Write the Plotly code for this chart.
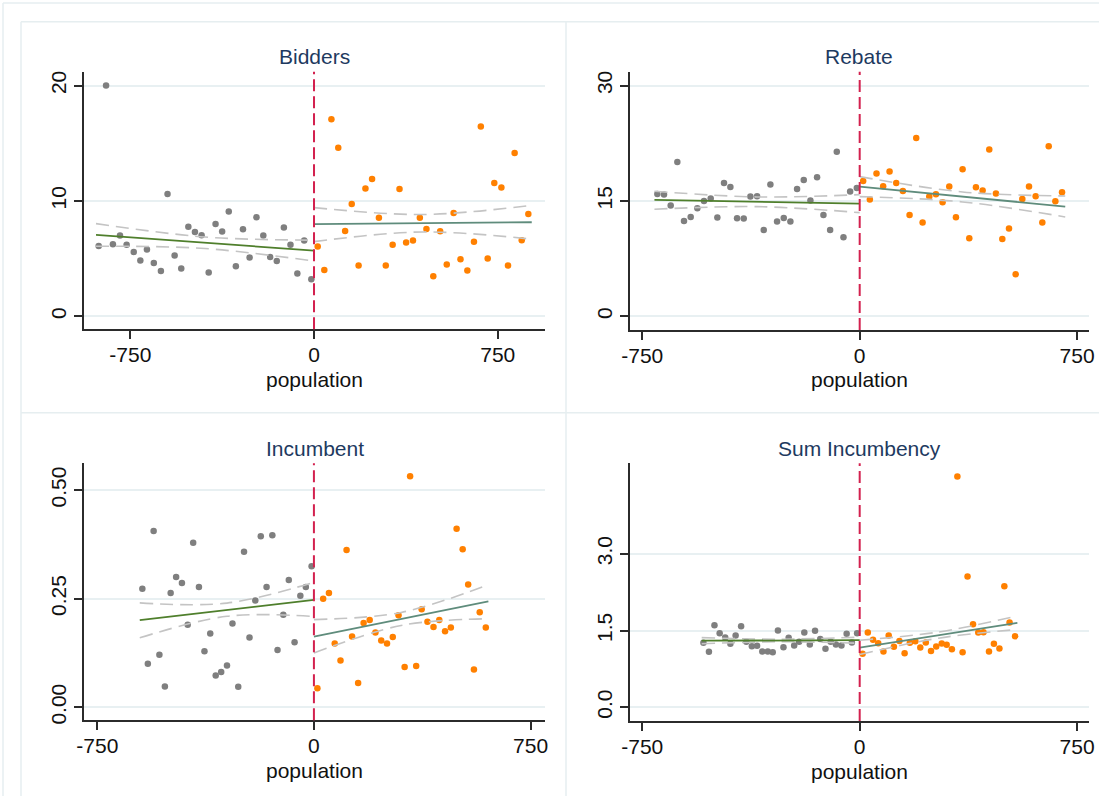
import plotly.graph_objects as go

W, H = 1099, 796

# ---------------- Bidders ----------------
bid_left_x = [-879, -849, -821, -792, -765, -736, -709, -682, -654, -625, -598, -569,
              -542, -513, -486, -459, -430, -402, -375, -348, -319, -290, -263, -235,
              -207, -179, -152, -123, -96, -68, -40, -11]
bid_left_y = [6.10, 20.0, 6.24, 7.00, 6.20, 5.58, 4.83, 5.78, 4.62, 3.93, 10.6, 5.26,
              4.13, 7.75, 7.31, 7.02, 3.79, 8.00, 7.34, 9.08, 4.34, 7.54, 5.09, 8.58,
              7.00, 5.14, 4.80, 7.69, 6.21, 3.70, 6.56, 3.21]
bid_right_x = [15, 42, 71, 99, 127, 154, 182, 210, 237, 265, 293, 321, 349, 376, 404, 432,
               459, 487, 515, 542, 570, 598, 626, 653, 681, 709, 736, 765, 792, 819, 848, 875]
bid_right_y = [6.04, 4.02, 17.08, 14.6, 7.40, 9.74, 4.39, 11.07, 11.9, 8.53, 4.39, 6.21,
               11.04, 6.39, 6.56, 8.53, 7.57, 3.47, 7.37, 4.48, 8.96, 4.94, 3.96, 6.47,
               16.45, 5.00, 11.56, 11.16, 4.39, 14.16, 6.59, 8.87]
bid_fit_left_x, bid_fit_left_y = [-890, 0], [7.05, 5.69]
bid_fit_right_x, bid_fit_right_y = [0, 889], [7.98, 8.15]
bid_ci_left_x = [-890, -445, 0]
bid_ci_left_hi = [8.03, 6.87, 6.60]
bid_ci_left_lo = [6.07, 5.87, 4.78]
bid_ci_right_x = [0, 445, 889]
bid_ci_right_hi = [9.42, 8.82, 9.62]
bid_ci_right_lo = [6.47, 7.31, 6.68]

# ---------------- Rebate ----------------
reb_left_x = [-698, -675, -652, -629, -606, -583, -560, -537, -514, -491, -468, -446,
              -423, -400, -377, -354, -331, -308, -285, -262, -239, -216, -193, -170,
              -147, -125, -102, -79, -56, -33, -10]
reb_left_y = [15.91, 15.82, 14.39, 20.06, 12.40, 12.92, 14.05, 15.00, 15.30, 12.84,
              17.34, 16.82, 12.75, 12.71, 15.56, 15.61, 11.23, 17.12, 12.32, 12.79,
              12.32, 16.56, 17.73, 15.04, 18.07, 13.18, 11.23, 21.40, 10.28, 16.21, 16.69]
reb_right_x = [12, 35, 58, 81, 103, 126, 149, 172, 195, 217, 240, 263, 286, 309, 332,
               355, 378, 401, 424, 447, 470, 492, 515, 538, 561, 584, 607, 630, 652, 675, 698]
reb_right_y = [17.60, 15.17, 18.55, 16.90, 18.81, 17.34, 16.30, 13.18, 23.18, 12.19,
               15.56, 15.87, 14.83, 16.86, 12.88, 19.11, 10.15, 16.77, 16.34, 21.67,
               15.95, 10.06, 11.41, 5.48, 15.26, 16.86, 15.61, 12.19, 22.10, 14.96, 16.13]
reb_fit_left_x, reb_fit_left_y = [-708, 0], [15.13, 14.65]
reb_fit_right_x, reb_fit_right_y = [0, 709], [16.86, 14.26]
reb_ci_left_x = [-708, -354, 0]
reb_ci_left_hi = [16.26, 15.52, 15.82]
reb_ci_left_lo = [13.92, 14.26, 13.48]
reb_ci_right_x = [0, 355, 709]
reb_ci_right_hi = [18.16, 16.17, 15.65]
reb_ci_right_lo = [15.56, 14.87, 12.92]

# ---------------- Incumbent ----------------
inc_left_x = [-594, -575, -555, -535, -516, -496, -477, -457, -437, -418, -398, -379,
              -359, -340, -321, -301, -282, -262, -242, -223, -203, -184, -164, -144,
              -126, -106, -87, -67, -47, -28, -8]
inc_left_y = [0.273, 0.100, 0.406, 0.121, 0.048, 0.263, 0.300, 0.286, 0.190, 0.379,
              0.277, 0.129, 0.170, 0.073, 0.081, 0.096, 0.193, 0.047, 0.358, 0.161,
              0.246, 0.394, 0.277, 0.396, 0.132, 0.213, 0.293, 0.150, 0.257, 0.277, 0.325]
inc_right_x = [12, 32, 52, 72, 92, 113, 132, 153, 172, 193, 213, 233, 253, 273, 293,
               314, 333, 354, 373, 393, 414, 434, 454, 474, 494, 515, 534, 554, 574, 595]
inc_right_y = [0.044, 0.250, 0.263, 0.147, 0.108, 0.362, 0.163, 0.056, 0.194, 0.201,
               0.172, 0.154, 0.147, 0.162, 0.212, 0.093, 0.532, 0.095, 0.226, 0.197,
               0.185, 0.201, 0.175, 0.184, 0.411, 0.364, 0.283, 0.087, 0.219, 0.184]
inc_fit_left_x, inc_fit_left_y = [-603, 0], [0.2005, 0.2473]
inc_fit_right_x, inc_fit_right_y = [0, 604], [0.1628, 0.2442]
inc_ci_left_x = [-603, -301, 0]
inc_ci_left_hi = [0.2404, 0.2400, 0.2880]
inc_ci_left_lo = [0.1600, 0.2097, 0.2090]
inc_ci_right_x = [0, 302, 604]
inc_ci_right_hi = [0.2020, 0.2185, 0.2826]
inc_ci_right_lo = [0.1250, 0.1885, 0.2040]

# ---------------- Sum Incumbency ----------------
sum_left_x = [-539, -520, -501, -483, -464, -446, -428, -409, -391, -372, -354, -336,
              -317, -300, -282, -263, -245, -226, -209, -191, -172, -154, -136, -118,
              -100, -82, -63, -45, -27, -9]
sum_left_y = [1.258, 1.082, 1.604, 1.447, 1.362, 1.239, 1.400, 1.584, 1.278, 1.193,
              1.200, 1.089, 1.089, 1.076, 1.500, 1.173, 1.356, 1.206, 1.278, 1.460,
              1.226, 1.493, 1.336, 1.141, 1.278, 1.226, 1.206, 1.434, 1.265, 1.447]
sum_right_x = [10, 28, 46, 64, 82, 100, 118, 137, 155, 173, 192, 209, 228, 246, 264,
               283, 300, 318, 337, 355, 372, 391, 409, 427, 446, 463, 482, 499, 517, 536]
sum_right_y = [1.043, 1.460, 1.317, 1.252, 1.089, 1.402, 1.180, 1.297, 1.056, 1.258,
               1.291, 1.167, 1.265, 1.100, 1.186, 1.245, 1.219, 1.134, 4.511, 1.076,
               2.555, 1.623, 1.460, 1.467, 1.089, 1.239, 1.147, 2.366, 1.656, 1.389]
sum_fit_left_x, sum_fit_left_y = [-545, 0], [1.30, 1.31]
sum_fit_right_x, sum_fit_right_y = [0, 544], [1.167, 1.649]
sum_ci_left_x = [-545, -272, 0]
sum_ci_left_hi = [1.36, 1.33, 1.37]
sum_ci_left_lo = [1.24, 1.28, 1.25]
sum_ci_right_x = [0, 272, 544]
sum_ci_right_hi = [1.31, 1.47, 1.786]
sum_ci_right_lo = [1.03, 1.35, 1.52]

titles = ["Bidders", "Rebate", "Incumbent", "Sum Incumbency"]
x_title = "population"
x_ticks = [-750, 0, 750]
y_ticks = [[0, 10, 20], [0, 15, 30], [0, 0.25, 0.5], [0, 1.5, 3.0]]
y_formats = ["d", "d", ".2f", ".1f"]
x_ranges = [[-939, 943], [-793, 791], [-796, 800], [-793, 791]]
y_ranges = [[-1.13, 21.2], [-1.78, 31.8], [-0.030, 0.562], [-0.27, 4.77]]

# plot-area boxes in pixels: (left, right, top, bottom)
boxes = [(84, 545, 71.7, 329.3), (629.8, 1089, 71.7, 330.0),
         (84, 545, 463.3, 720.3), (629.8, 1089, 463.3, 721.0)]

panels = [
    (bid_left_x, bid_left_y, bid_right_x, bid_right_y,
     bid_fit_left_x, bid_fit_left_y, bid_fit_right_x, bid_fit_right_y,
     bid_ci_left_x, bid_ci_left_hi, bid_ci_left_lo, bid_ci_right_x, bid_ci_right_hi, bid_ci_right_lo),
    (reb_left_x, reb_left_y, reb_right_x, reb_right_y,
     reb_fit_left_x, reb_fit_left_y, reb_fit_right_x, reb_fit_right_y,
     reb_ci_left_x, reb_ci_left_hi, reb_ci_left_lo, reb_ci_right_x, reb_ci_right_hi, reb_ci_right_lo),
    (inc_left_x, inc_left_y, inc_right_x, inc_right_y,
     inc_fit_left_x, inc_fit_left_y, inc_fit_right_x, inc_fit_right_y,
     inc_ci_left_x, inc_ci_left_hi, inc_ci_left_lo, inc_ci_right_x, inc_ci_right_hi, inc_ci_right_lo),
    (sum_left_x, sum_left_y, sum_right_x, sum_right_y,
     sum_fit_left_x, sum_fit_left_y, sum_fit_right_x, sum_fit_right_y,
     sum_ci_left_x, sum_ci_left_hi, sum_ci_left_lo, sum_ci_right_x, sum_ci_right_hi, sum_ci_right_lo),
]

GRAY_PT = "#7f7f7f"
ORANGE_PT = "#ff8000"
GREEN_L = "#4f7f2c"
GREEN_R = "#5f8c7c"
CI_COL = "#c4c4c4"
RED = "#d3214f"
GRID = "#e8f0f2"
AXIS = "#2b2b2b"
FONT = "Liberation Sans, Arial, sans-serif"
FS = 21

fig = go.Figure()
layout = dict(width=W, height=H, autosize=False,
              margin=dict(l=0, r=0, t=0, b=0, autoexpand=False),
              paper_bgcolor="white", plot_bgcolor="white",
              showlegend=False, font=dict(family=FONT, size=FS, color="#111"))
shapes = []
annotations = []

for i, (p, box) in enumerate(zip(panels, boxes)):
    (lx, ly, rx, ry, flx, fly, frx, fry, clx, clh, cll, crx, crh, crl) = p
    n = "" if i == 0 else str(i + 1)
    xa, ya = "x" + n, "y" + n
    left, right, top, bottom = box
    xdom = [left / W, right / W]
    ydom = [1 - bottom / H, 1 - top / H]

    def ci(x, y):
        fig.add_trace(go.Scatter(x=x, y=y, mode="lines", xaxis=xa, yaxis=ya,
                                 line=dict(color=CI_COL, width=1.6, dash="13px,7px", shape="spline"),
                                 hoverinfo="skip"))

    fig.add_trace(go.Scatter(x=lx, y=ly, mode="markers", xaxis=xa, yaxis=ya,
                             marker=dict(color=GRAY_PT, size=6.5, line=dict(width=0))))
    fig.add_trace(go.Scatter(x=rx, y=ry, mode="markers", xaxis=xa, yaxis=ya,
                             marker=dict(color=ORANGE_PT, size=6.5, line=dict(width=0))))
    ci(clx, clh)
    ci(clx, cll)
    ci(crx, crh)
    ci(crx, crl)
    fig.add_trace(go.Scatter(x=flx, y=fly, mode="lines", xaxis=xa, yaxis=ya,
                             line=dict(color=GREEN_L, width=1.8)))
    fig.add_trace(go.Scatter(x=frx, y=fry, mode="lines", xaxis=xa, yaxis=ya,
                             line=dict(color=GREEN_R, width=1.8)))

    layout["xaxis" + n] = dict(
        domain=xdom, range=x_ranges[i], anchor=ya, automargin=False,
        tickvals=x_ticks, ticktext=[str(v) for v in x_ticks],
        ticks="outside", ticklen=8, tickwidth=1.5, tickcolor=AXIS,
        ticklabelstandoff=-2,
        showline=True, linecolor=AXIS, linewidth=1.5,
        showgrid=False, zeroline=False,
        tickfont=dict(family=FONT, size=FS, color="#111"))
    layout["yaxis" + n] = dict(
        domain=ydom, range=y_ranges[i], anchor=xa, automargin=False,
        tickvals=y_ticks[i], tickformat=y_formats[i], tickangle=-90,
        ticks="outside", ticklen=8, tickwidth=1.5, tickcolor=AXIS,
        showline=True, linecolor=AXIS, linewidth=1.5,
        showgrid=True, gridcolor=GRID, gridwidth=1.5, zeroline=False,
        tickfont=dict(family=FONT, size=FS, color="#111"))

    # cutoff at zero population
    shapes.append(dict(type="line", xref=xa, yref=ya + " domain", x0=0, x1=0, y0=0, y1=1,
                       line=dict(color=RED, width=2, dash="12px,5px"), layer="above"))
    cx = (left + right) / 2 / W
    annotations.append(dict(text=titles[i], xref="paper", yref="paper",
                            x=cx, y=1 - (top - 15) / H,
                            xanchor="center", yanchor="middle", showarrow=False,
                            font=dict(family=FONT, size=FS, color="#1e3a5f")))
    annotations.append(dict(text=x_title, xref="paper", yref="paper",
                            x=cx, y=1 - (bottom + 50) / H,
                            xanchor="center", yanchor="middle", showarrow=False,
                            font=dict(family=FONT, size=FS, color="#111")))

# subgraph frames
def hline(y, x0, x1):
    shapes.append(dict(type="line", xref="paper", yref="paper", x0=x0 / W, x1=x1 / W,
                       y0=1 - y / H, y1=1 - y / H, line=dict(color="#e6eef0", width=1.5),
                       layer="below"))

def vline(x, y0, y1):
    shapes.append(dict(type="line", xref="paper", yref="paper", x0=x / W, x1=x / W,
                       y0=1 - y0 / H, y1=1 - y1 / H, line=dict(color="#e6eef0", width=1.5),
                       layer="below"))

hline(3, 3, W)
vline(3, 3, H)
hline(21.7, 21, W)
hline(412.7, 21, W)
vline(21, 21.7, H)
vline(566, 21.7, H)

layout["shapes"] = shapes
layout["annotations"] = annotations
fig.update_layout(**layout)
fig.write_html("out.html")
